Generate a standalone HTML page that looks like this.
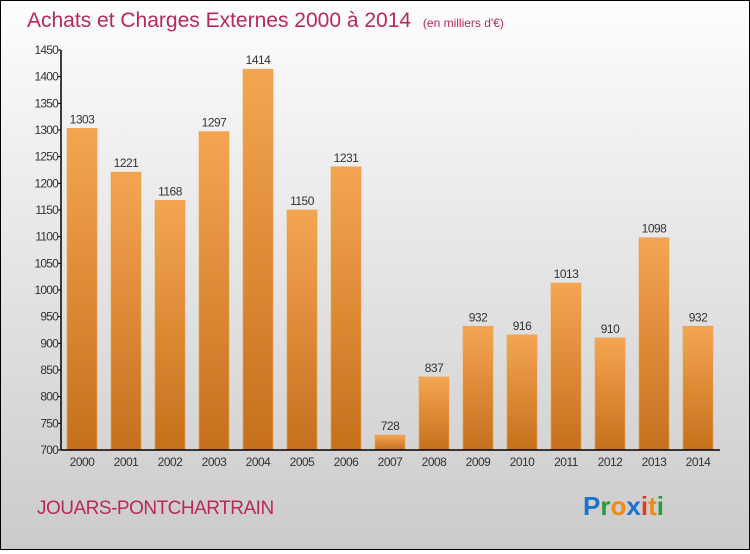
<!DOCTYPE html>
<html><head><meta charset="utf-8"><style>
html,body{margin:0;padding:0}
body{width:750px;height:550px;overflow:hidden;font-family:"Liberation Sans",sans-serif}
#frame{position:absolute;left:0;top:0;width:748px;height:548px;border:1px solid #000;background:linear-gradient(#fdfdfd,#cbcbcb)}
</style></head><body>
<div id="frame">
<svg id="chart" width="748" height="548">
<defs>
<linearGradient id="bg" x1="0" y1="0" x2="0" y2="1"><stop offset="0" stop-color="#f5a550"/><stop offset="1" stop-color="#c6701c"/></linearGradient>
</defs>
<text x="26" y="26" font-size="21" fill="#b8285a">Achats et Charges Externes 2000 à 2014 <tspan font-size="12" dx="6">(en milliers d'€)</tspan></text>
<text x="36" y="513" font-size="19" fill="#b8285a" letter-spacing="-0.5">JOUARS-PONTCHARTRAIN</text>
<text x="582" y="514" font-size="26" font-weight="bold" font-family="'Liberation Sans',sans-serif"><tspan fill="#1a73c8">P</tspan><tspan fill="#2a9a3a">r</tspan><tspan fill="#f08a10">o</tspan><tspan fill="#1a73c8">x</tspan><tspan fill="#e03a2a">i</tspan><tspan fill="#f08a10">t</tspan><tspan fill="#2a9a3a">i</tspan></text>
<g id="bars"></g>
<g id="axes"></g>
</svg>
</div>
<script>
const years=["2000","2001","2002","2003","2004","2005","2006","2007","2008","2009","2010","2011","2012","2013","2014"];
const values=[1303,1221,1168,1297,1414,1150,1231,728,837,932,916,1013,910,1098,932];
const yTicks=[700,750,800,850,900,950,1000,1050,1100,1150,1200,1250,1300,1350,1400,1450];
const NS="http://www.w3.org/2000/svg";
const y0=449,yMin=700,yMax=1450,plotTop=49;
function yScale(v){return y0-(v-yMin)*(y0-plotTop)/(yMax-yMin);}
function xScale(i){return 66+i*44;}
const bw=30;
const bars=document.getElementById('bars'),axes=document.getElementById('axes');
function mk(t,a,p){const e=document.createElementNS(NS,t);for(const k in a)e.setAttribute(k,a[k]);p.appendChild(e);return e;}
values.forEach((v,i)=>{
  const r=mk('rect',{x:xScale(i),y:yScale(v),width:bw,height:y0-yScale(v),fill:'url(#bg)',stroke:'#f0a050','stroke-width':0.6},bars);
  
  
  const t=mk('text',{x:xScale(i)+bw/2,y:yScale(v)-5,'text-anchor':'middle','font-size':12,fill:'#333','letter-spacing':'-0.5'},bars);
  t.textContent=v;
  
  
  const xl=mk('text',{x:xScale(i)+bw/2,y:y0+16,'text-anchor':'middle','font-size':12,fill:'#333','letter-spacing':'-0.5'},axes);
  xl.textContent=years[i];
  
  
});
const ya=mk('line',{x1:60,y1:plotTop,x2:60,y2:y0,stroke:'#000','stroke-width':1.5},axes);


const xa=mk('line',{x1:60,y1:y0,x2:719,y2:y0,stroke:'#000','stroke-width':1.5},axes);


yTicks.forEach(v=>{
  const y=yScale(v);
  mk('line',{x1:57,y1:y,x2:60,y2:y,stroke:'#000'},axes);
  const t=mk('text',{x:57,y:y+4,'text-anchor':'end','font-size':12,fill:'#333','letter-spacing':'-0.8'},axes);
  t.textContent=v;
  
  
});
</script>
</body></html>
